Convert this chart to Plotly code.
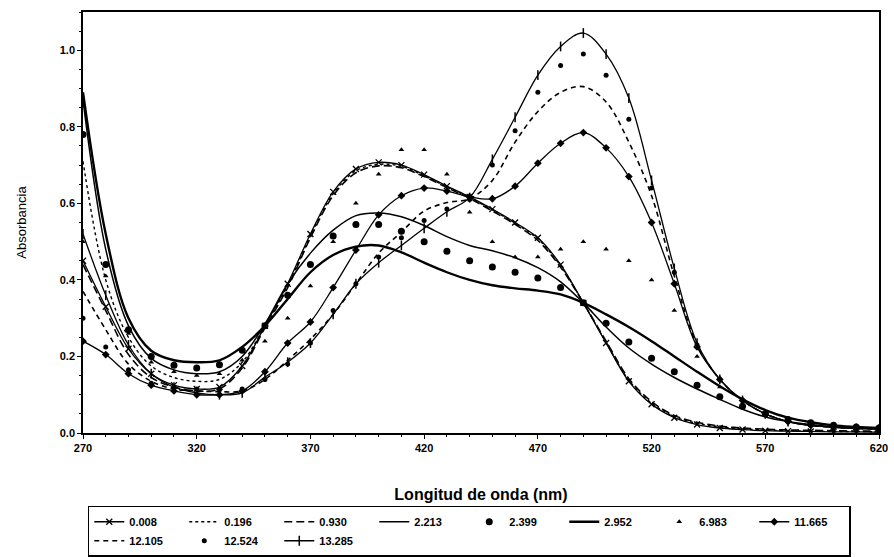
import plotly.graph_objects as go

wavelength = [270, 280, 290, 300, 310, 320, 330, 340, 350, 360, 370, 380, 390, 400, 410, 420, 430, 440,
              450, 460, 470, 480, 490, 500, 510, 520, 530, 540, 550, 560, 570, 580, 590, 600, 610, 620]

a_0008 = [0.45, 0.33, 0.22, 0.155, 0.125, 0.115, 0.12, 0.175, 0.28, 0.39, 0.52, 0.63, 0.69, 0.707, 0.70, 0.675,
          0.645, 0.617, 0.585, 0.55, 0.51, 0.44, 0.34, 0.235, 0.135, 0.075, 0.04, 0.022, 0.013, 0.009, 0.006,
          0.005, 0.004, 0.003, 0.003, 0.002]
a_0196 = [0.71, 0.40, 0.25, 0.175, 0.145, 0.135, 0.14, 0.185, 0.28, 0.385, 0.515, 0.625, 0.685, 0.702, 0.697,
          0.672, 0.643, 0.615, 0.583, 0.548, 0.507, 0.437, 0.34, 0.237, 0.138, 0.078, 0.043, 0.025, 0.016,
          0.011, 0.008, 0.006, 0.005, 0.004, 0.004, 0.003]
a_0930 = [0.44, 0.32, 0.205, 0.145, 0.12, 0.11, 0.115, 0.17, 0.275, 0.38, 0.51, 0.62, 0.68, 0.698, 0.693, 0.67,
          0.641, 0.613, 0.58, 0.545, 0.503, 0.433, 0.34, 0.24, 0.142, 0.082, 0.046, 0.028, 0.018, 0.013, 0.01,
          0.008, 0.007, 0.006, 0.005, 0.005]
a_2213 = [0.87, 0.48, 0.28, 0.195, 0.165, 0.155, 0.16, 0.20, 0.285, 0.39, 0.47, 0.53, 0.568, 0.575, 0.565, 0.542,
          0.513, 0.49, 0.476, 0.458, 0.432, 0.395, 0.34, 0.277, 0.222, 0.18, 0.145, 0.115, 0.088, 0.062, 0.042,
          0.03, 0.022, 0.016, 0.013, 0.011]
a_2399 = [0.78, 0.44, 0.27, 0.20, 0.177, 0.17, 0.178, 0.216, 0.28, 0.36, 0.44, 0.515, 0.545, 0.545, 0.527, 0.50,
          0.475, 0.45, 0.434, 0.42, 0.405, 0.38, 0.34, 0.287, 0.238, 0.195, 0.16, 0.125, 0.095, 0.07, 0.05,
          0.035, 0.027, 0.02, 0.016, 0.013]
a_2952 = [0.89, 0.52, 0.30, 0.215, 0.19, 0.185, 0.19, 0.225, 0.28, 0.35, 0.42, 0.465, 0.487, 0.49, 0.472, 0.445,
          0.42, 0.40, 0.386, 0.378, 0.372, 0.362, 0.34, 0.31, 0.277, 0.24, 0.20, 0.16, 0.122, 0.088, 0.06,
          0.04, 0.028, 0.02, 0.016, 0.013]
a_6983 = [0.50, 0.41, 0.26, 0.185, 0.16, 0.15, 0.155, 0.19, 0.24, 0.30, 0.384, 0.50, 0.60, 0.676, 0.74, 0.74,
          0.676, 0.577, 0.50, 0.46, 0.46, 0.48, 0.50, 0.48, 0.45, 0.40, 0.32, 0.20, 0.12, 0.07, 0.045, 0.03,
          0.02, 0.015, 0.012, 0.01]
a_11665 = [0.24, 0.205, 0.155, 0.125, 0.11, 0.10, 0.10, 0.11, 0.16, 0.235, 0.29, 0.38, 0.478, 0.57, 0.62, 0.64,
           0.632, 0.617, 0.612, 0.645, 0.705, 0.757, 0.785, 0.745, 0.67, 0.55, 0.39, 0.225, 0.14, 0.085, 0.05,
           0.03, 0.02, 0.015, 0.012, 0.01]
a_12105 = [0.37, 0.27, 0.18, 0.135, 0.115, 0.11, 0.108, 0.11, 0.14, 0.19, 0.245, 0.31, 0.39, 0.47, 0.525, 0.58,
           0.602, 0.612, 0.66, 0.76, 0.84, 0.89, 0.905, 0.865, 0.76, 0.62, 0.41, 0.23, 0.14, 0.085, 0.05, 0.03,
           0.02, 0.015, 0.012, 0.01]
a_12524 = [0.30, 0.225, 0.165, 0.13, 0.12, 0.115, 0.113, 0.115, 0.14, 0.18, 0.235, 0.32, 0.39, 0.46, 0.51, 0.555,
           0.585, 0.61, 0.70, 0.79, 0.89, 0.96, 0.99, 0.935, 0.82, 0.64, 0.42, 0.23, 0.14, 0.085, 0.05, 0.03,
           0.02, 0.015, 0.012, 0.01]
a_13285 = [0.52, 0.36, 0.23, 0.155, 0.12, 0.105, 0.10, 0.105, 0.146, 0.185, 0.235, 0.31, 0.39, 0.445, 0.49, 0.535,
           0.578, 0.615, 0.715, 0.825, 0.935, 1.01, 1.045, 0.99, 0.875, 0.66, 0.43, 0.235, 0.14, 0.085, 0.05,
           0.03, 0.02, 0.015, 0.012, 0.01]

series_names = ["0.008", "0.196", "0.930", "2.213", "2.399", "2.952", "6.983", "11.665", "12.105", "12.524", "13.285"]
series_values = [a_0008, a_0196, a_0930, a_2213, a_2399, a_2952, a_6983, a_11665, a_12105, a_12524, a_13285]

K = "black"
styles = {
    "0.008": dict(mode="lines+markers", line=dict(color=K, width=1.3),
                  marker=dict(symbol="x-thin-open", size=6, line=dict(color=K, width=1.3))),
    "0.196": dict(mode="lines", line=dict(color=K, width=1.4, dash="dot")),
    "0.930": dict(mode="lines", line=dict(color=K, width=1.6, dash="8px,4px")),
    "2.213": dict(mode="lines", line=dict(color=K, width=1.5)),
    "2.399": dict(mode="markers", marker=dict(symbol="circle", size=7, color=K)),
    "2.952": dict(mode="lines", line=dict(color=K, width=2.4)),
    "6.983": dict(mode="markers", marker=dict(symbol="triangle-up", size=5, color=K)),
    "11.665": dict(mode="lines+markers", line=dict(color=K, width=1.3),
                   marker=dict(symbol="diamond", size=6, color=K)),
    "12.105": dict(mode="lines", line=dict(color=K, width=1.6, dash="5px,4px")),
    "12.524": dict(mode="markers", marker=dict(symbol="circle", size=5, color=K)),
    "13.285": dict(mode="lines+markers", line=dict(color=K, width=1.3),
                   marker=dict(symbol="line-ns-open", size=7, line=dict(color=K, width=1.5))),
}

fig = go.Figure()
for name, vals in zip(series_names, series_values):
    st = styles[name]
    kw = dict(x=wavelength, y=vals, name=name, mode=st["mode"])
    if "line" in st:
        kw["line"] = dict(st["line"], shape="spline", smoothing=1.0)
    if "marker" in st:
        kw["marker"] = st["marker"]
    fig.add_trace(go.Scatter(**kw))

tickfont = dict(family="Liberation Sans", size=11, color=K, weight="bold")
fig.update_layout(
    width=894, height=557,
    margin=dict(l=83, r=15, t=12, b=124),
    paper_bgcolor="white", plot_bgcolor="white",
    font=dict(family="Liberation Sans", color=K),
    xaxis=dict(range=[270, 620], tickmode="array", tickvals=[270, 320, 370, 420, 470, 520, 570, 620],
               automargin=False,
               showline=True, linecolor=K, linewidth=1.5, mirror=True, showgrid=False, zeroline=False,
               ticks="outside", ticklen=4, tickcolor=K, tickfont=tickfont,
               minor=dict(dtick=10, ticks="outside", ticklen=2, tickcolor=K),
               title=dict(text="Longitud de onda (nm)", standoff=36,
                          font=dict(family="Liberation Sans", size=16, color=K, weight="bold"))),
    yaxis=dict(range=[0, 1.1], tickvals=[0, 0.2, 0.4, 0.6, 0.8, 1.0], tickformat=".1f",
               automargin=False,
               showline=True, linecolor=K, linewidth=1.5, mirror=True, showgrid=False, zeroline=False,
               ticks="outside", ticklen=4, tickcolor=K, tickfont=tickfont,
               minor=dict(dtick=0.05, ticks="outside", ticklen=2, tickcolor=K),
               title=dict(text="Absorbancia", standoff=30,
                          font=dict(family="Liberation Sans", size=13, color=K))),
    legend=dict(orientation="h", x=0.006, xanchor="left", y=0.092, yref="container", yanchor="top",
                bordercolor=K, borderwidth=1.5, bgcolor="white",
                font=dict(family="Liberation Sans", size=11, color=K, weight="bold"),
                tracegroupgap=0, itemwidth=30, entrywidth=50, entrywidthmode="pixels"),
    showlegend=True,
)

fig.write_html("out.html")
